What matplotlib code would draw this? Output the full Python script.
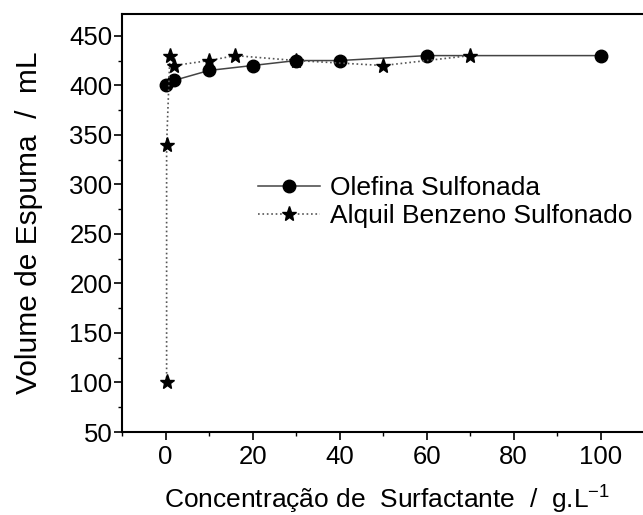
import numpy as np
import matplotlib.pyplot as plt
from matplotlib.ticker import MultipleLocator

plt.rcParams['font.family'] = ['Liberation Sans', 'DejaVu Sans']

# dados
conc_olefina = [0.1, 2, 10, 20, 30, 40, 60, 100]
vol_olefina = [400, 405, 415, 420, 425, 425, 430, 430]

conc_alquil = [0.25, 0.25, 1, 2, 10, 16, 30, 50, 70]
vol_alquil = [100, 340, 430, 420, 425, 430, 425, 420, 430]

nome_olefina = 'Olefina Sulfonada'
nome_alquil = 'Alquil Benzeno Sulfonado'

fs = 18.5

fig = plt.figure(figsize=(6.43, 5.15), dpi=100)
# eixo passa da borda direita (como na figura original, cortada)
ax = fig.add_axes([122 / 643, 83 / 515, 531 / 643, 418 / 515])

ax.plot(conc_olefina, vol_olefina, '-', color='#444444', lw=1.1,
        marker='o', ms=9, mfc='black', mec='black', label=nome_olefina)
ax.plot(conc_alquil, vol_alquil, ':', color='#555555', lw=1.2,
        marker='*', ms=11, mfc='black', mec='black', label=nome_alquil)

ax.set_xlim(-10, 112)
ax.set_ylim(50, 472)
ax.set_xticks([0, 20, 40, 60, 80, 100])
ax.set_yticks(np.arange(50, 451, 50))
ax.xaxis.set_minor_locator(MultipleLocator(10))
ax.yaxis.set_minor_locator(MultipleLocator(25))
ax.tick_params(which='major', direction='out', length=5.5, width=1.2, labelsize=fs)
ax.tick_params(axis='x', which='major', pad=4)
ax.tick_params(axis='y', which='major', pad=1.5)
ax.tick_params(which='minor', direction='out', length=3, width=1.0)
ax.tick_params(axis='x', which='both', top=False)
ax.tick_params(axis='y', which='both', right=False)
for s in ax.spines.values():
    s.set_linewidth(1.5)
ax.spines['right'].set_visible(False)

ax.set_xlabel('Concentração de  Surfactante  /  g.L$^{\\mathregular{-1}}$', fontsize=19, labelpad=9.5)
ax.set_ylabel('Volume de Espuma  /  mL', fontsize=21.5, labelpad=18.5)

ax.legend(loc='upper left', bbox_to_anchor=(258 / 643, 1 - 176 / 515),
          bbox_transform=fig.transFigure, frameon=False, fontsize=19,
          handlelength=2.35, handletextpad=0.38, labelspacing=0.15, borderpad=0,
          borderaxespad=0)

fig.savefig('out.png', dpi=100)
